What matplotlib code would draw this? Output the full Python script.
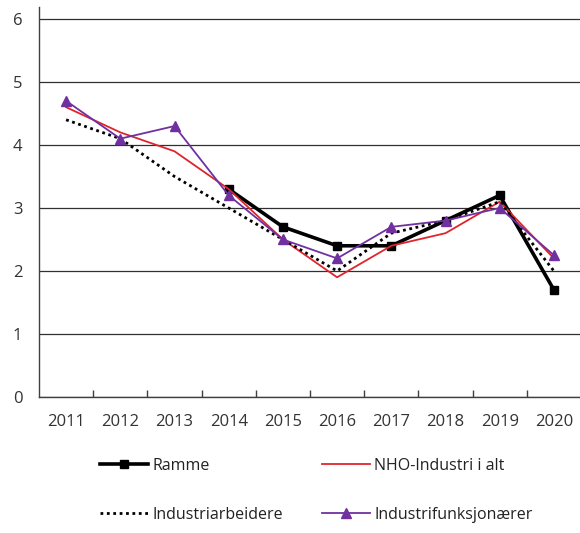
import matplotlib
matplotlib.use("Agg")
import matplotlib.pyplot as plt
from matplotlib.ticker import FixedLocator

years = ["2011", "2012", "2013", "2014", "2015", "2016", "2017", "2018", "2019", "2020"]
ramme = [None, None, None, 3.3, 2.7, 2.4, 2.4, 2.8, 3.2, 1.7]
nho = [4.6, 4.2, 3.9, 3.3, 2.5, 1.9, 2.4, 2.6, 3.1, 2.2]
arbeidere = [4.4, 4.1, 3.5, 3.0, 2.5, 2.0, 2.6, 2.8, 3.1, 2.0]
funksjonaerer = [4.7, 4.1, 4.3, 3.2, 2.5, 2.2, 2.7, 2.8, 3.0, 2.25]
yticks = [0, 1, 2, 3, 4, 5, 6]

plt.rcParams['font.family'] = ['Open Sans', 'DejaVu Sans']

W, H = 580, 533
fig = plt.figure(figsize=(W / 100, H / 100), dpi=100)
ax = fig.add_axes([39 / W, 1 - 397 / H, (581 - 39) / W, (397 - 7) / H])

x = list(range(len(years)))
rx = [i for i, v in zip(x, ramme) if v is not None]
rv = [v for v in ramme if v is not None]

l1, = ax.plot(rx, rv, color='black', lw=2.6, marker='s', markersize=6, label='Ramme', zorder=3)
l2, = ax.plot(x, nho, color='#E0242C', lw=1.3, label='NHO-Industri i alt', zorder=4)
l3, = ax.plot(x, arbeidere, color='black', lw=2.0, linestyle=(0, (1, 1.3)), label='Industriarbeidere', zorder=4)
l4, = ax.plot(x, funksjonaerer, color='#7030A0', lw=1.3, marker='^', markersize=7, label='Industrifunksjonærer', zorder=5)

ax.set_xlim(-0.5, len(years) - 0.5)
ax.set_ylim(0, 6.19)
ax.set_yticks(yticks)
ax.set_yticklabels([str(t) for t in yticks])
ax.set_xticks(x)
ax.set_xticklabels(years)
ax.xaxis.set_minor_locator(FixedLocator([i + 0.5 for i in range(len(years) - 1)]))
ax.tick_params(axis='x', which='major', length=0, pad=12, labelsize=12, labelcolor='#333333')
ax.tick_params(axis='x', which='minor', direction='in', length=5, width=1, color='#404040')
ax.tick_params(axis='y', which='major', length=0, pad=12, labelsize=12, labelcolor='#333333')

ax.grid(axis='y', color='#303030', lw=0.9)
ax.set_axisbelow(True)
for s in ['top', 'right']:
    ax.spines[s].set_visible(False)
for s in ['left', 'bottom']:
    ax.spines[s].set_color('#404040')
    ax.spines[s].set_linewidth(1.0)

fig.legend(handles=[l1, l3, l2, l4], loc='upper left', ncol=2,
           bbox_to_anchor=(100 / W, 1 - 458 / H), frameon=False, borderpad=0,
           borderaxespad=0, fontsize=11.5, handlelength=3.0, handletextpad=0.3,
           columnspacing=2.4, labelspacing=2.05, numpoints=1, labelcolor='#222222')

fig.savefig('out.png', dpi=100)
